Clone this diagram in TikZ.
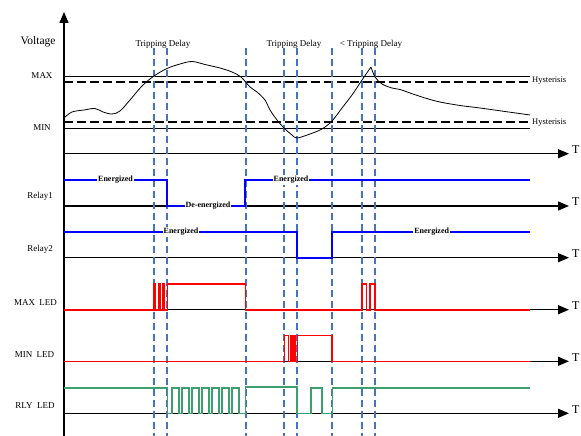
\documentclass[tikz,border=0pt]{standalone}
\usepackage{fontspec}
\setmainfont{Liberation Serif}
\usepackage{xcolor}
\usetikzlibrary{arrows.meta}

\definecolor{delayblue}{HTML}{4472C4}
\definecolor{relayblue}{RGB}{0,0,255}
\definecolor{ledred}{RGB}{255,0,0}
\definecolor{ledgreen}{RGB}{60,160,110}

\begin{document}
\begin{tikzpicture}[
    x=1pt, y=-1pt,
    taxis/.style={
        line width=1.4pt,
        -{Triangle[length=11pt,width=9pt]}
    },
    limit/.style={line width=0.9pt},
    hyst/.style={line width=2.2pt, dash pattern=on 9pt off 4pt},
    delayline/.style={delayblue, line width=2pt, dash pattern=on 7pt off 4pt},
    signal/.style={line width=1.6pt, line join=miter},
    lbl/.style={font=\fontsize{9}{10}\selectfont, inner sep=0pt},
    statelbl/.style={font=\fontsize{8}{9}\selectfont\bfseries, fill=white, inner sep=1pt},
    tlbl/.style={font=\fontsize{12}{13}\selectfont, anchor=west, inner sep=0pt}
]

\useasboundingbox (0,0) rectangle (581,436);

% Axes

\draw[taxis] (64,436) -- (64,12);

\foreach \y/\n in {153.7/v, 206/ra, 257.7/rb, 309.7/mx, 361.3/mn, 413.3/rl}{
    \coordinate (o\n) at (64,\y);
    \coordinate (e\n) at (569,\y);
    \draw[taxis] (o\n) -- (e\n);
    \node[tlbl] (t\n) at (572,\y-4) {T};
}


% Voltage levels

\draw[limit] (64,76.3) -- (530,76.3);
\draw[hyst] (64,82.3) -- (530,82.3);
\draw[hyst] (64,121.7) -- (530,121.7);
\draw[limit] (64,128) -- (530,128);


% Delay markers

\foreach \x in {154.3, 167.3, 245.7, 284.3, 297.2, 331.8, 362.3, 375}{
    \draw[delayline] (\x,48) -- (\x,436);
}


% Voltage curve

\draw[line width=0.8pt] plot[smooth, tension=0.55] coordinates {
    (64,118) (72,112) (84,110) (95,108.5) (103,112) (112,114) (120,111)
    (130,100) (142,86) (154,76) (167,68.5) (180,64) (192,61.5) (205,64.5)
    (220,68) (232,72) (241,77) (250,87) (257,92) (265,100) (270,110)
    (277,120) (284,128) (292,135) (297,138) (310,134) (322,129) (332,121)
    (342,108) (352,95) (362,80) (371,67)
};
\draw[line width=0.8pt] plot[smooth, tension=0.55] coordinates {
    (371,67) (375,77) (382,84) (392,88) (400,89.5) (410,93) (425,98)
    (440,102) (460,105.5) (480,108) (505,111.5) (530,115)
};


% Relay traces

\draw[signal, relayblue] (64,180) -- (167,180) -- (167,206) -- (245,206)
    -- (245,180) -- (530,180);

\draw[signal, relayblue] (64,232) -- (297,232) -- (297,257.7) -- (332,257.7)
    -- (332,232) -- (530,232);


% LED traces

\draw[signal, ledred] (64,309.7) -- (154,309.7) -- (154,284) -- (155.5,284)
    -- (155.5,309.7) -- (158.3,309.7) -- (158.3,284) -- (160,284)
    -- (160,309.7) -- (162.7,309.7) -- (162.7,284) -- (164.3,284)
    -- (164.3,309.7) -- (167.5,309.7) -- (167.5,284) -- (245.5,284)
    -- (245.5,309.7) -- (362,309.7) -- (362,284) -- (366.5,284)
    -- (366.5,309.7) -- (370,309.7) -- (370,284) -- (375,284)
    -- (375,309.7) -- (530,309.7);

\draw[signal, ledred] (64,361.3) -- (284.3,361.3) -- (284.3,335.3) -- (288.3,335.3)
    -- (288.3,361.3) -- (290.5,361.3) -- (290.5,335.3) -- (292,335.3)
    -- (292,361.3) -- (293.7,361.3) -- (293.7,335.3) -- (295.2,335.3)
    -- (295.2,361.3) -- (297.5,361.3) -- (297.5,335.3) -- (332,335.3)
    -- (332,361.3) -- (530,361.3);

\draw[signal, ledgreen] (64,388) -- (167.5,388) -- (167.5,413.3)
    \foreach \k in {0,...,6}{
        -- ({172+10*\k},413.3) -- ({172+10*\k},388)
        -- ({179+10*\k},388) -- ({179+10*\k},413.3)
    }
    -- (245.5,413.3) -- (245.5,387) -- (297,387) -- (297,413.3)
    -- (310.7,413.3) -- (310.7,388) -- (321.7,388) -- (321.7,413.3)
    -- (332.3,413.3) -- (332.3,388) -- (530,388);


% Labels

\node[lbl, font=\fontsize{11.5}{12}\selectfont] (voltage) at (38,42) {Voltage};
\node[lbl] (max) at (42,76) {MAX};
\node[lbl] (min) at (42,128) {MIN};

\node[lbl] (delay1) at (163,44) {Tripping Delay};
\node[lbl] (delay2) at (294,44) {Tripping Delay};
\node[lbl] (delay3) at (371,44) {\textless{} Tripping Delay};

\node[lbl, anchor=west, font=\fontsize{8.5}{9}\selectfont] (hystmax) at (532,81) {Hysterisis};
\node[lbl, anchor=west, font=\fontsize{8.5}{9}\selectfont] (hystmin) at (532,123) {Hysterisis};

\node[lbl] (relay1) at (40,196) {Relay1};
\node[lbl] (relay2) at (40,249) {Relay2};
\node[lbl] (maxled) at (35.5,303) {MAX\ \ LED};
\node[lbl] (minled) at (34.5,355) {MIN\ \ LED};
\node[lbl] (rlyled) at (35,405.7) {RLY\ \ LED};

\node[statelbl] (ra1) at (115.5,180) {Energized};
\node[statelbl] (ra2) at (208,206) {De-energized};
\node[statelbl] (ra3) at (291,180) {Energized};
\node[statelbl] (rb1) at (181,232) {Energized};
\node[statelbl] (rb2) at (431.7,232) {Energized};

\end{tikzpicture}
\end{document}
